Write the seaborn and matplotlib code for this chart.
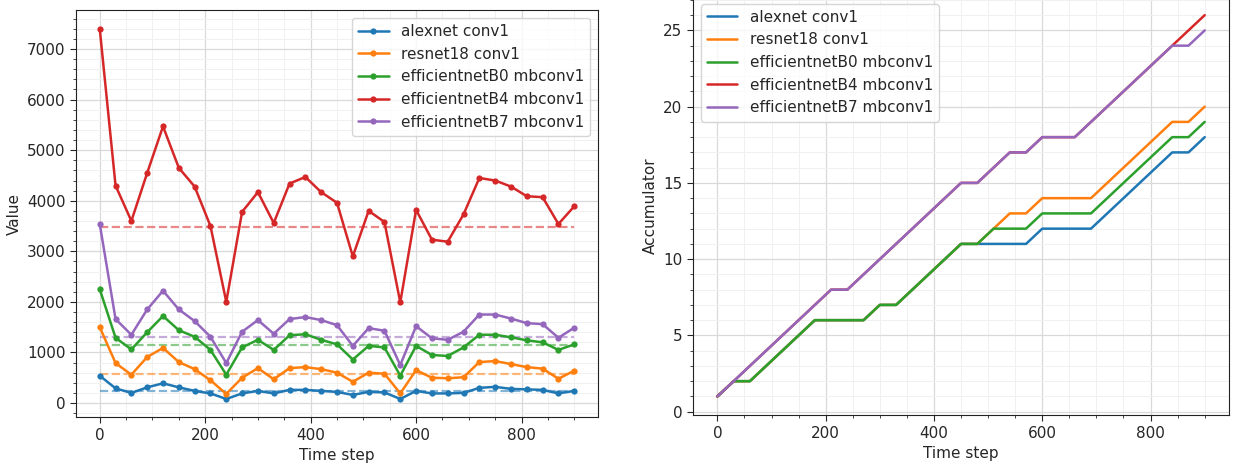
import numpy as np
import pandas as pd
import matplotlib
matplotlib.use("Agg")
import matplotlib.pyplot as plt
from matplotlib.ticker import MultipleLocator
import seaborn as sns

# ---- data -------------------------------------------------------------
time_steps = list(range(0, 901, 30))

series_names = [
    "alexnet conv1",
    "resnet18 conv1",
    "efficientnetB0 mbconv1",
    "efficientnetB4 mbconv1",
    "efficientnetB7 mbconv1",
]

alexnet_values = [540, 290, 200, 310, 390, 310, 240, 190, 80, 190, 240, 190, 260, 260,
                  240, 220, 160, 220, 210, 80, 240, 190, 190, 200, 300, 320, 280, 270,
                  260, 190, 240]
resnet18_values = [1500, 790, 560, 910, 1090, 810, 670, 450, 180, 500, 690, 470, 690, 710,
                   670, 600, 420, 600, 580, 190, 650, 500, 490, 510, 810, 830, 770, 710,
                   680, 480, 640]
effb0_values = [2250, 1290, 1060, 1400, 1720, 1440, 1310, 1050, 560, 1100, 1250, 1050, 1340,
                1360, 1250, 1160, 860, 1130, 1100, 540, 1130, 950, 930, 1100, 1350, 1350,
                1300, 1240, 1200, 1050, 1160]
effb4_values = [7400, 4300, 3600, 4550, 5470, 4650, 4280, 3500, 2000, 3780, 4170, 3560, 4340,
                4470, 4170, 3960, 2900, 3800, 3580, 1990, 3820, 3230, 3190, 3730, 4450, 4400,
                4280, 4090, 4070, 3540, 3890]
effb7_values = [3540, 1660, 1350, 1850, 2220, 1850, 1620, 1310, 790, 1410, 1640, 1370, 1660,
                1700, 1640, 1540, 1130, 1480, 1430, 750, 1520, 1280, 1250, 1410, 1750, 1750,
                1670, 1580, 1560, 1290, 1490]

# reference level per series (dashed), same order as series_names
baselines = [230, 580, 1150, 3490, 1300]

alexnet_acc = [1, 2, 2, 3, 4, 5, 6, 6, 6, 6, 7, 7, 8, 9, 10, 11, 11, 11, 11, 11, 12, 12, 12,
               12, 13, 14, 15, 16, 17, 17, 18]
resnet18_acc = [1, 2, 2, 3, 4, 5, 6, 6, 6, 6, 7, 7, 8, 9, 10, 11, 11, 12, 13, 13, 14, 14, 14,
                14, 15, 16, 17, 18, 19, 19, 20]
effb0_acc = [1, 2, 2, 3, 4, 5, 6, 6, 6, 6, 7, 7, 8, 9, 10, 11, 11, 12, 12, 12, 13, 13, 13, 13,
             14, 15, 16, 17, 18, 18, 19]
effb4_acc = [1, 2, 3, 4, 5, 6, 7, 8, 8, 9, 10, 11, 12, 13, 14, 15, 15, 16, 17, 17, 18, 18, 18,
             19, 20, 21, 22, 23, 24, 25, 26]
effb7_acc = [1, 2, 3, 4, 5, 6, 7, 8, 8, 9, 10, 11, 12, 13, 14, 15, 15, 16, 17, 17, 18, 18, 18,
             19, 20, 21, 22, 23, 24, 24, 25]

values = [alexnet_values, resnet18_values, effb0_values, effb4_values, effb7_values]
accums = [alexnet_acc, resnet18_acc, effb0_acc, effb4_acc, effb7_acc]

# ---- style ------------------------------------------------------------
sns.set_style("ticks")
plt.rcParams["font.family"] = ["DejaVu Sans"]
plt.rcParams["font.size"] = 11
colors = sns.color_palette("tab10", 5)

fig = plt.figure(figsize=(12.36, 4.66), dpi=100)
ax1 = fig.add_axes([0.0615, 0.1041, 0.4223, 0.8738])
ax2 = fig.add_axes([0.5607, 0.1084, 0.4337, 0.9000])

# ---- left: raw values with reference levels ---------------------------
for name, vals, col in zip(series_names, values, colors):
    df = pd.DataFrame({"Time step": time_steps, "Value": vals})
    sns.lineplot(data=df, x="Time step", y="Value", ax=ax1, color=col, label=name,
                 marker="o", markersize=4.5, markeredgewidth=0, linewidth=1.8)
for base, col in zip(baselines, colors):
    ax1.plot([time_steps[0], time_steps[-1]], [base, base], color=col, alpha=0.55,
             linestyle="--", linewidth=1.6, zorder=1.5)

ax1.set_xlabel("Time step", fontsize=11)
ax1.set_ylabel("Value", fontsize=11)
ax1.xaxis.set_major_locator(MultipleLocator(200))
ax1.xaxis.set_minor_locator(MultipleLocator(50))
ax1.yaxis.set_major_locator(MultipleLocator(1000))
ax1.yaxis.set_minor_locator(MultipleLocator(200))
ax1.legend(loc="upper right", fontsize=11)

# ---- right: accumulators ----------------------------------------------
for name, acc, col in zip(series_names, accums, colors):
    df = pd.DataFrame({"Time step": time_steps, "Accumulator": acc})
    sns.lineplot(data=df, x="Time step", y="Accumulator", ax=ax2, color=col,
                 label=name, linewidth=1.8)

ax2.set_xlabel("Time step", fontsize=11)
ax2.set_ylabel("Accumulator", fontsize=11)
ax2.xaxis.set_major_locator(MultipleLocator(200))
ax2.xaxis.set_minor_locator(MultipleLocator(50))
ax2.yaxis.set_major_locator(MultipleLocator(5))
ax2.yaxis.set_minor_locator(MultipleLocator(1))
ax2.legend(loc="upper left", fontsize=11)

for ax in (ax1, ax2):
    ax.grid(which="major", color="#d9d9d9", linewidth=0.9)
    ax.grid(which="minor", color="#f0f0f0", linewidth=0.7)
    ax.set_axisbelow(True)
    for sp in ax.spines.values():
        sp.set_visible(True)
        sp.set_color("#222222")
    ax.tick_params(which="major", labelsize=11, length=4)
    ax.tick_params(which="minor", length=2.5)

fig.savefig("out.png", dpi=100)
